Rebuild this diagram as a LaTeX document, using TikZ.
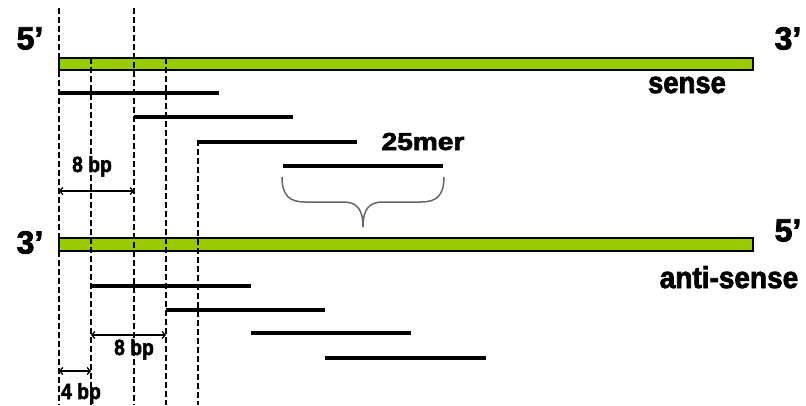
\documentclass[tikz,border=0pt]{standalone}
\usepackage{fontspec}
\usepackage{graphicx}
\setmainfont{Liberation Sans}[BoldFeatures={FakeBold=2.5}]
\usetikzlibrary{arrows.meta}
\definecolor{dnagreen}{RGB}{153,204,0}
\begin{document}
\begin{tikzpicture}[x=1pt,y=-1pt,
  strand/.style={draw=black,line width=1.6pt,fill=dnagreen},
  guide/.style={dash pattern=on 5.5pt off 3.5pt,line width=1.6pt},
  oligo/.style={line width=3.8pt,line cap=butt},
  shade/.style={line width=3.2pt,color=black!30,line cap=butt},
  endlbl/.style={font=\bfseries\fontsize{32}{32}\selectfont,inner sep=0pt},
  strandlbl/.style={font=\bfseries\fontsize{28}{28}\selectfont,inner sep=0pt,anchor=base},
  bplbl/.style={font=\bfseries\fontsize{21}{21}\selectfont,inner sep=0pt,anchor=base},
  span/.style={{Straight Barb[length=3pt,width=7pt]}-{Straight Barb[length=3pt,width=7pt]},line width=1.3pt},
  bracestyle/.style={draw=black!60,line width=1.5pt}]

\useasboundingbox (0,0) rectangle (806,405);

% strands
\draw[strand] (59,58) rectangle (753,70);
\draw[strand] (59,238) rectangle (753,251);

% oligos (25mers) with shadows
\foreach \xa/\xb/\yy [count=\i] in {59/219/93, 134/293/116.7, 198/357/141.7, 283/443/165.7,
                        91/251/286, 166/325/310, 251/411/333.3, 325/486/357.7}{
  \coordinate (o\i a) at (\xa,\yy);
  \coordinate (o\i b) at (\xb,\yy);
  \draw[shade,yshift=-2.5pt] (o\i a) -- (o\i b);
  \draw[oligo] (o\i a) -- (o\i b);
}

% guide lines
\foreach \xx/\ytop [count=\i] in {59/8, 91/58, 134/8, 166/58, 198/140}{
  \coordinate (g\i t) at (\xx,\ytop);
  \coordinate (g\i b) at (\xx,405);
  \draw[guide] (g\i t) -- (g\i b);
}

% end labels
\node[endlbl] (fiveTL) at (30,38.5) {5’};
\node[endlbl] (threeTR) at (788,38.5) {3’};
\node[endlbl] (threeBL) at (30,242.5) {3’};
\node[endlbl] (fiveBR) at (788,230.5) {5’};

% strand labels
\node[strandlbl] (senselbl) at (687,93) {\scalebox{0.98}[1.08]{sense}};
\node[strandlbl] (antilbl) at (729,288) {\scalebox{1.0}[1.08]{anti-sense}};
\node[strandlbl,font=\bfseries\fontsize{24}{24}\selectfont] (merlbl) at (423,150) {\scalebox{1.17}[1.02]{25mer}};

% spans
\coordinate (s1a) at (59,191);  \coordinate (s1b) at (134,191);
\coordinate (s2a) at (91,335);  \coordinate (s2b) at (166,335);
\coordinate (s3a) at (59,371);  \coordinate (s3b) at (91,371);
\draw[span] (s1a) -- (s1b);
\draw[span] (s2a) -- (s2b);
\draw[span] (s3a) -- (s3b);
\node[bplbl] (bp1) at (92,172) {\scalebox{0.92}[1.05]{8 bp}};
\node[bplbl] (bp2) at (134,355) {\scalebox{0.92}[1.05]{8 bp}};
\node[bplbl] (bp3) at (81,399) {\scalebox{0.92}[1.05]{4 bp}};

% brace
\coordinate (brL) at (282,177);
\coordinate (brR) at (444,177);
\coordinate (brT) at (363,227);
\draw[bracestyle] (brL) .. controls (282,196) and (290,202) .. (305,202)
  -- (343,202) .. controls (356,202) and (363,208) .. (brT)
  .. controls (363,208) and (370,202) .. (383,202)
  -- (421,202) .. controls (436,202) and (444,196) .. (brR);
\end{tikzpicture}
\end{document}
